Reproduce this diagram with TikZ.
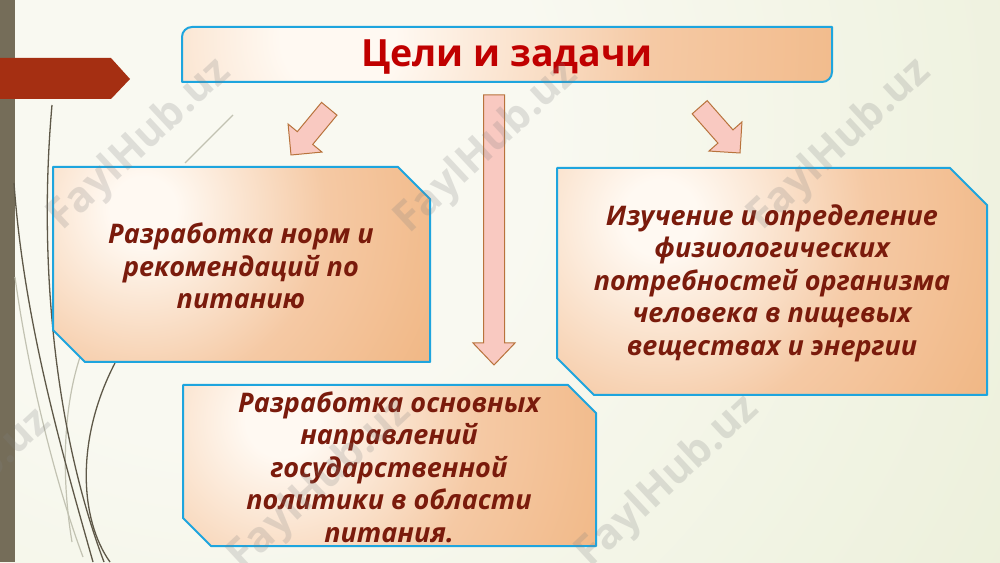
\documentclass[tikz,border=0pt]{standalone}
\usepackage{fontspec}
\setmainfont{Open Sans}
\usetikzlibrary{calc}
\definecolor{bgin}{HTML}{F9F9F1}
\definecolor{bgout}{HTML}{DFE7C4}
\definecolor{stripcol}{HTML}{756D59}
\definecolor{tagred}{HTML}{A52F12}
\definecolor{ferndark}{HTML}{5E5848}
\definecolor{fernlight}{HTML}{C2C2B2}
\definecolor{boxlight}{HTML}{FFF9F2}
\definecolor{boxmid}{HTML}{F5C9A4}
\definecolor{boxdark}{HTML}{EDA86A}
\definecolor{boxline}{HTML}{1EA5DE}
\definecolor{arrowfill}{HTML}{F9C9C1}
\definecolor{arrowline}{HTML}{B8733C}
\definecolor{titlered}{HTML}{C00000}
\definecolor{textbrown}{HTML}{7A1B0C}
\pgfdeclareradialshading{boxglow}{\pgfpoint{0bp}{0bp}}{color(0bp)=(boxlight); color(2bp)=(boxlight); color(11bp)=(boxmid); color(27bp)=(boxdark); color(50bp)=(boxdark)}
\pgfdeclareradialshading{bgglow}{\pgfpoint{0bp}{0bp}}{color(0bp)=(bgin); color(8bp)=(bgin); color(38bp)=(bgout); color(50bp)=(bgout)}
\tikzset{
  panel/.style={draw=boxline, line width=2pt, line join=round,
    path picture={
      \fill[boxdark] (path picture bounding box.north west) rectangle (path picture bounding box.south east);
      \shade[shading=boxglow] let \p1=(path picture bounding box.north west), \p2=(path picture bounding box.south east) in
        ({\x1+0.24*(\x2-\x1)},{\y1+0.22*(\y2-\y1)}) circle ({1.1*(\x2-\x1)});
    }},
  blockarrow/.style={fill=arrowfill, draw=arrowline, line width=1pt, line join=miter},
  goaltext/.style={text=textbrown, font=\bfseries\itshape\fontsize{27}{32.5}\selectfont, align=center, inner sep=0pt},
  titletext/.style={text=titlered, font=\bfseries\fontsize{37.5}{44}\selectfont, inner sep=0pt},
  fernline/.style={draw=ferndark, line width=1.3pt},
  fernfaint/.style={draw=fernlight, line width=1.2pt},
  watermark/.style={text=gray, opacity=0.22, font=\bfseries\fontsize{42}{48}\selectfont, rotate=43, inner sep=0pt}
}
\begin{document}
\begin{tikzpicture}[x=1pt,y=1pt]
\clip (0,0) rectangle (1000,562);
\useasboundingbox (0,0) rectangle (1000,562);
% background
\shade[shading=bgglow] (220,440) circle (1000);
% left strip
\fill[stripcol] (0,0) rectangle (15,562);
% fern curves
\draw[fernfaint] (15,285) .. controls (28,190) and (55,80) .. (83,5);
\draw[fernfaint] (80,205) .. controls (62,150) and (62,80) .. (72,20);
\draw[fernfaint] (233,447) -- (185,399);
\draw[fernline] (14,379) .. controls (24,240) and (62,110) .. (93,0);
\draw[fernline] (52,457) .. controls (38,300) and (55,130) .. (104,0);
\draw[fernline] (115,199) .. controls (75,122) and (80,42) .. (110,0);
\fill[tagred] (0,504) -- (111,504) -- (130,483) -- (111,463) -- (0,463) -- cycle;
% title box
\path[panel] (182,480) -- (182,525) arc[start angle=180,end angle=90,radius=10] -- (832,535) -- (832,490) arc[start angle=0,end angle=-90,radius=10] -- cycle;
\node[titletext] (title) at (507,505) {Цели и задачи};
% arrows
\begin{scope}[shift={(291,407)}, rotate=230.4]
  \draw[blockarrow] (0,0) -- (-22,22) -- (-22,10) -- (-60,10) -- (-60,-10) -- (-22,-10) -- (-22,-22) -- cycle;
\end{scope}
\begin{scope}[shift={(740,409)}, rotate=-48.6]
  \draw[blockarrow] (0,0) -- (-22,22) -- (-22,10) -- (-61,10) -- (-61,-10) -- (-22,-10) -- (-22,-22) -- cycle;
\end{scope}
\begin{scope}[shift={(494,197)}, rotate=-90]
  \draw[blockarrow] (0,0) -- (-22,21) -- (-22,10.5) -- (-270,10.5) -- (-270,-10.5) -- (-22,-10.5) -- (-22,-21) -- cycle;
\end{scope}
% boxes
\path[panel] (53,395) -- (398,395) -- (430,363) -- (430,200) -- (85,200) -- (53,232) -- cycle;
\path[panel] (557,394) -- (950,394) -- (987,357) -- (987,167) -- (594,167) -- (557,204) -- cycle;
\path[panel] (183,177) -- (568,177) -- (596,149) -- (596,16) -- (211,16) -- (183,44) -- cycle;
\node[goaltext] (goalA) at (241,296) {Разработка норм и\\рекомендаций по\\питанию};
\node[goaltext] (goalB) at (772,279) {Изучение и определение\\физиологических\\потребностей организма\\человека в пищевых\\веществах и энергии};
\node[goaltext] (goalC) at (389,95) {Разработка основных\\направлений\\государственной\\политики в области\\питания.};
% watermarks
\node[watermark] (wm1) at (140,417) {FaylHub.uz};
\node[watermark] (wm2) at (487,414) {FaylHub.uz};
\node[watermark] (wm3) at (840,417) {FaylHub.uz};
\node[watermark] (wm4) at (-40,67) {FaylHub.uz};
\node[watermark] (wm5) at (320,77) {FaylHub.uz};
\node[watermark] (wm6) at (668,80) {FaylHub.uz};
\end{tikzpicture}
\end{document}
